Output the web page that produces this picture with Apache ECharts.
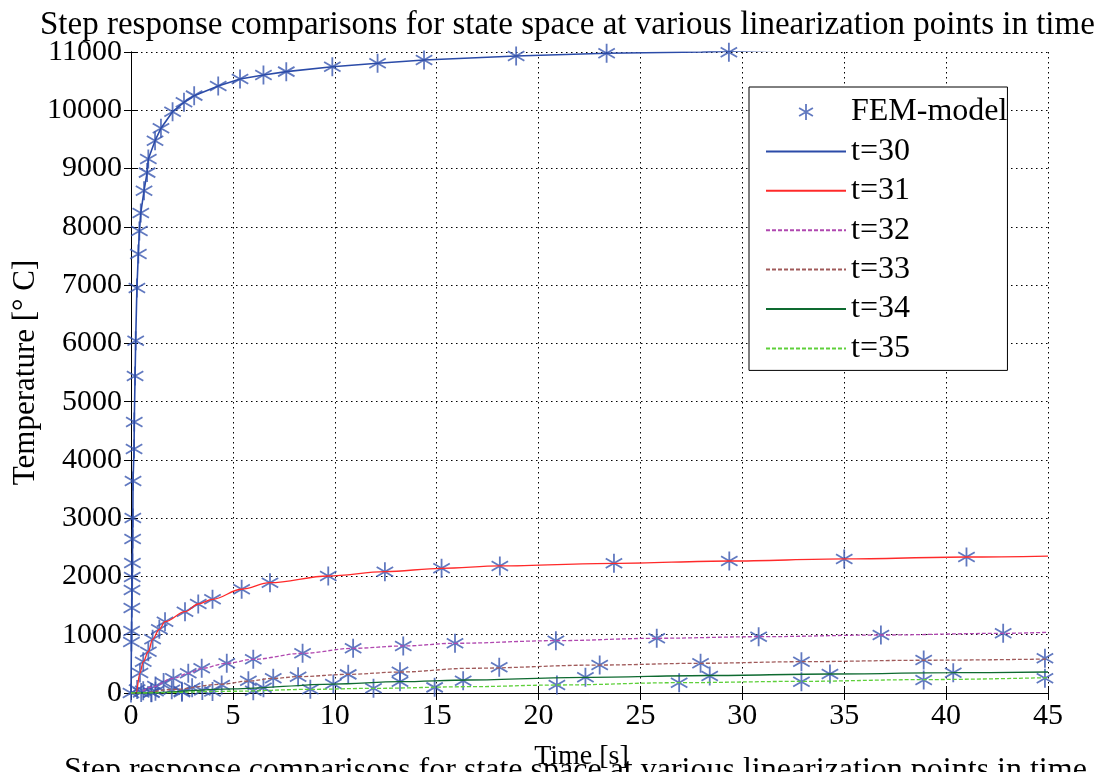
<!DOCTYPE html>
<html>
<head>
<meta charset="utf-8">
<script src="https://cdn.jsdelivr.net/npm/echarts@6/dist/echarts.min.js"></script>
<style>
html,body{margin:0;padding:0;background:#fff;}
#chart{width:1103px;height:772px;}
</style>
</head>
<body>
<div id="chart"></div>
<script>
// ---- data ----
var titleText = 'Step response comparisons for state space at various linearization points in time';
var xTicks = [0, 5, 10, 15, 20, 25, 30, 35, 40, 45];
var yTicks = [0, 1000, 2000, 3000, 4000, 5000, 6000, 7000, 8000, 9000, 10000, 11000];
var seriesNames = ['t=30', 't=31', 't=32', 't=33', 't=34', 't=35'];

// FEM-model samples (markers)
var fem30T = [0.0,0.02,0.03,0.04,0.05,0.06,0.07,0.08,0.09,0.10,0.15,0.16,0.2,0.23,0.29,0.36,0.41,0.48,0.64,0.79,0.85,1.18,1.47,2.04,2.6,3.1,4.28,5.35,6.5,7.62,9.88,12.1,14.38,18.9,23.34,29.34];
var fem30V = [0,875,1064,1459,1768,1991,2231,2643,3003,3638,4187,4651,5440,6046,6950,7534,7928,8237,8620,8930,9164,9478,9691,9976,10137,10251,10417,10537,10606,10663,10748,10806,10864,10932,10978,10995];
var fem31T = [0.3,0.44,0.6,0.85,1.06,1.39,1.67,2.65,3.3,4.0,5.43,6.82,9.68,12.46,15.24,18.1,23.7,29.36,35.0,41.0];
var fem31V = [60,343,537,709,921,1093,1224,1395,1527,1608,1780,1893,2008,2082,2140,2180,2225,2265,2300,2334];
var fem32T = [0.6,1.2,1.6,2.08,2.81,3.47,4.7,6.0,8.42,10.9,13.36,15.9,20.85,25.8,30.8,36.8,42.8];
var fem32V = [40,120,180,252,338,424,510,578,681,767,807,853,898,939,966,995,1024];
var fem33T = [0.5,1.2,2.0,3.0,4.45,5.76,6.98,8.2,10.66,13.2,18.07,23.0,27.95,32.9,38.9,44.85];
var fem33V = [10,30,55,90,137,211,252,280,320,366,441,480,510,537,566,595];
var fem34T = [1.0,2.5,3.5,6.5,9.93,13.2,16.3,22.3,28.4,34.3,40.35];
var fem34V = [10,30,45,90,154,194,211,269,292,326,348];
var fem35T = [1.0,2.5,4.0,6.0,8.8,11.9,14.9,20.9,26.9,32.9,38.9,44.85];
var fem35V = [5,15,25,40,63,80,97,137,177,194,223,252];

// State-space step responses (lines)
var line30T = [0.0,0.02,0.03,0.04,0.05,0.06,0.07,0.08,0.09,0.10,0.15,0.16,0.2,0.23,0.29,0.36,0.41,0.48,0.64,0.79,0.85,1.18,1.47,2.04,2.6,3.1,4.28,5.35,6.5,7.62,9.88,12.1,14.38,18.9,23.34,28.0,35.0,45.0];
var line30V = [0,875,1064,1459,1768,1991,2231,2643,3003,3638,4187,4651,5440,6046,6950,7534,7928,8237,8620,8930,9164,9478,9691,9976,10137,10251,10417,10537,10606,10663,10748,10806,10864,10932,10978,11000,11060,11140];
var line31T = [0.0,0.25,0.44,0.6,0.85,1.06,1.39,1.67,2.65,3.3,4.0,5.43,6.82,9.68,12.46,15.24,18.1,23.7,29.36,35.0,41.0,45.0];
var line31V = [0,0,343,537,709,921,1093,1224,1395,1527,1608,1780,1893,2008,2082,2140,2180,2225,2265,2300,2334,2350];
var line32T = [0.0,0.3,1.0,2.08,2.81,3.47,4.7,6.0,8.42,10.9,13.36,15.9,20.85,25.8,30.8,36.8,42.8,45.0];
var line32V = [0,0,100,252,338,424,510,578,681,767,807,853,898,939,966,995,1024,1042];
var line33T = [0.0,0.5,2.0,4.45,5.76,6.98,8.2,10.66,13.2,16.6,23.0,27.95,32.9,38.9,45.0];
var line33V = [0,0,60,150,205,250,280,320,360,424,480,510,537,562,583];
var line34T = [0.0,0.5,5.0,9.93,13.2,16.6,22.3,28.4,34.3,40.35,45.0];
var line34V = [0,0,70,154,194,223,269,300,326,348,360];
var line35T = [0.0,0.5,5.0,8.8,11.9,16.6,20.9,26.9,32.9,38.9,45.0];
var line35V = [0,0,30,63,80,108,137,177,200,230,263];

function pairs(t, v) { var out = []; for (var i = 0; i < t.length; i++) out.push([t[i], v[i]]); return out; }

var femColor = '#3a58b0';
var lineColors = ['#2b4ba8', '#ff2a2a', '#b048b0', '#a05a5a', '#0e6a30', '#5ed03a'];
var lineTypes = ['solid', 'solid', [4, 2], [4, 2], 'solid', [4, 2]];
var lineData = [pairs(line30T, line30V), pairs(line31T, line31V), pairs(line32T, line32V), pairs(line33T, line33V), pairs(line34T, line34V), pairs(line35T, line35V)];
var femData = [pairs(fem30T, fem30V), pairs(fem31T, fem31V), pairs(fem32T, fem32V), pairs(fem33T, fem33V), pairs(fem34T, fem34V), pairs(fem35T, fem35V)];

var asterisk = 'path://M0,-1L0,1M-0.866,-0.5L0.866,0.5M-0.866,0.5L0.866,-0.5';
var serif = 'Liberation Serif';
var clear = 'rgba(0,0,0,0)';

var series = [];
femData.forEach(function (d) {
  series.push({
    name: 'FEM-model', type: 'scatter', data: d,
    symbol: asterisk, symbolSize: 19, symbolKeepAspect: true,
    itemStyle: { color: clear, borderColor: femColor, borderWidth: 1.8 },
    z: 2, silent: true
  });
});
lineData.forEach(function (d, i) {
  series.push({
    name: seriesNames[i], type: 'line', data: d,
    symbol: 'none', showSymbol: false,
    smooth: i === 0 ? false : 0.35, smoothMonotone: 'x',
    lineStyle: { color: lineColors[i], width: i === 0 ? 1.6 : 1.3, type: lineTypes[i] },
    itemStyle: { color: lineColors[i] },
    z: 3, silent: true, animation: false
  });
});

var legendData = [{ name: 'FEM-model', itemStyle: { color: clear, borderColor: femColor, borderWidth: 1.8 } }];
seriesNames.forEach(function (n) { legendData.push({ name: n, itemStyle: { color: clear, borderColor: clear, borderWidth: 0 } }); });

var chart = echarts.init(document.getElementById('chart'), null, { renderer: 'canvas' });
var axisLabelStyle = { fontFamily: serif, fontSize: 30, color: '#000' };
chart.setOption({
  animation: false,
  backgroundColor: '#fff',
  title: {
    text: titleText, left: 35, top: 4,
    textStyle: { fontFamily: serif, fontSize: 33, fontWeight: 'normal', color: '#000' }
  },
  grid: { left: 131, right: 55, top: 52, bottom: 79, containLabel: false, outerBoundsMode: 'none' },
  legend: {
    data: legendData,
    orient: 'vertical', left: 749, top: 87,
    itemWidth: 80, itemHeight: 16, itemGap: 7.4,
    padding: [9, 0, 6, 16],
    backgroundColor: '#fff', borderColor: '#000', borderWidth: 1,
    textStyle: { fontFamily: serif, fontSize: 32, color: '#000' },
    selectedMode: false
  },
  xAxis: [{
    type: 'value', min: 0, max: 45, interval: 5,
    name: 'Time [s]', nameLocation: 'middle', nameGap: 50, nameMoveOverlap: false,
    nameTextStyle: { fontFamily: serif, fontSize: 28, color: '#000', padding: [0, 16, 0, 0] },
    axisLine: { show: true, lineStyle: { color: '#000', width: 1 } },
    axisTick: { show: true, inside: true, length: 7, lineStyle: { color: '#000' } },
    axisLabel: Object.assign({ margin: 8, formatter: function (v) { return xTicks.indexOf(v) >= 0 ? String(v) : ''; } }, axisLabelStyle),
    splitLine: { show: true, lineStyle: { color: '#000', type: [1.5, 3.5], width: 1 } }
  }, {
    type: 'value', min: 0, max: 45, interval: 5, position: 'top',
    axisLine: { show: true, lineStyle: { color: '#000', width: 1 } },
    axisTick: { show: true, inside: true, length: 7, lineStyle: { color: '#000' } },
    axisLabel: { show: false }, splitLine: { show: false }
  }],
  yAxis: [{
    type: 'value', min: 0, max: 11000, interval: 1000,
    name: 'Temperature [° C]', nameLocation: 'middle', nameGap: 90, nameMoveOverlap: false,
    nameTextStyle: { fontFamily: serif, fontSize: 31, color: '#000' },
    axisLine: { show: true, lineStyle: { color: '#000', width: 1 } },
    axisTick: { show: true, inside: true, length: 7, lineStyle: { color: '#000' } },
    axisLabel: Object.assign({ margin: 9, formatter: function (v) { return yTicks.indexOf(v) >= 0 ? String(v) : ''; } }, axisLabelStyle),
    splitLine: { show: true, lineStyle: { color: '#000', type: [1.5, 3.5], width: 1 } }
  }, {
    type: 'value', min: 0, max: 11000, interval: 1000, position: 'right',
    axisLine: { show: true, lineStyle: { color: '#000', width: 1 } },
    axisTick: { show: true, inside: true, length: 7, lineStyle: { color: '#000' } },
    axisLabel: { show: false }, splitLine: { show: false }
  }],
  graphic: [{
    type: 'text', left: 64, top: 755, z: 0,
    style: { text: titleText, font: '32px "Liberation Serif"', fill: '#000' }
  }],
  series: series
});
</script>
</body>
</html>
